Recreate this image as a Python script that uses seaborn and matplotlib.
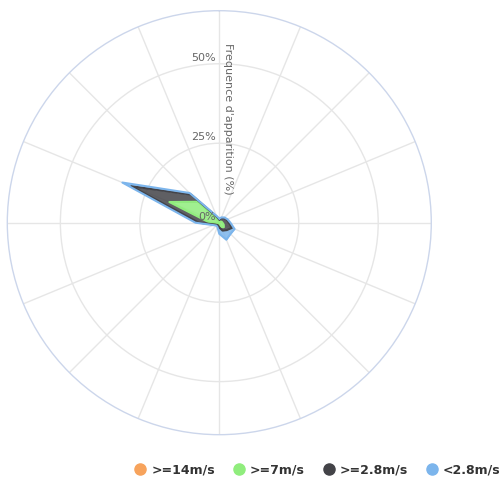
import numpy as np
import matplotlib
matplotlib.use("Agg")
import matplotlib.pyplot as plt
import seaborn as sns
from matplotlib.lines import Line2D

# ---- data ----
directions = ["N", "NNE", "NE", "ENE", "E", "ESE", "SE", "SSE",
              "S", "SSW", "SW", "WSW", "W", "WNW", "NW", "NNW"]
v_ge14 = [0.0, 0.0, 0.0, 0.0, 0.0, 0.0, 0.0, 0.0,
          0.0, 0.0, 0.0, 0.0, 0.0, 0.1, 0.0, 0.0]
v_ge7 = [0.3, 0.3, 0.5, 0.8, 1.0, 1.5, 2.0, 1.5,
         0.3, 0.2, 0.2, 0.5, 3.0, 16.9, 9.3, 0.5]
v_ge28 = [0.7, 1.2, 1.5, 1.7, 2.0, 2.8, 1.3, 1.2,
          1.2, 0.8, 0.8, 1.0, 3.5, 13.0, 3.2, 1.5]
v_lt28 = [0.3, 0.3, 0.3, 0.3, 0.5, 0.9, 1.7, 3.1,
          2.0, 0.5, 0.3, 0.5, 1.0, 3.0, 0.7, 0.3]
series_labels = [">=14m/s", ">=7m/s", ">=2.8m/s", "<2.8m/s"]
series_colors = ["#f7a35c", "#90ed7d", "#434348", "#7cb5ec"]
r_ticks = [0, 25, 50]
r_tick_labels = ["0%", "25%", "50%"]
r_max = 66.7
axis_title = "Frequence d'apparition (%)"

# ---- style ----
sns.set_theme(style="white")
plt.rcParams['font.family'] = ['DejaVu Sans']

fig = plt.figure(figsize=(5.03, 4.79), dpi=100)
ax = fig.add_axes([0.01451, 0.0925, 0.8429, 0.8852], projection='polar')
ax.set_theta_zero_location('N')
ax.set_theta_direction(-1)
ax.set_facecolor('white')

n = len(directions)
theta = np.deg2rad(np.arange(n) * 360.0 / n)
theta_c = np.append(theta, theta[0] + 2 * np.pi)

base = np.zeros(n + 1)
series_vals = [v_ge14, v_ge7, v_ge28, v_lt28]
for vals, col, lab in zip(series_vals, series_colors, series_labels):
    v = np.append(np.array(vals, dtype=float), vals[0])
    top = base + v
    ax.fill_between(theta_c, base, top, color=col, alpha=0.85, lw=0, zorder=2)
    sns.lineplot(x=theta_c, y=top, ax=ax, color=col, lw=1.5, zorder=3,
                 sort=False, estimator=None)
    base = top

ax.set_ylim(0, r_max)
ax.set_xticks(theta)
ax.set_xticklabels([])
ax.set_yticks([t for t in r_ticks if t > 0])
ax.set_yticklabels([])
ax.xaxis.grid(True, color='#e6e6e6', lw=1)
ax.yaxis.grid(True, color='#e6e6e6', lw=1)
ax.spines['polar'].set_color('#ccd6eb')
ax.spines['polar'].set_linewidth(1)
ax.set_axisbelow(True)

for t, lab in zip(r_ticks, r_tick_labels):
    ax.annotate(lab, xy=(0, t), xycoords='data', xytext=(-3, 1),
                textcoords='offset pixels', ha='right', va='bottom',
                fontsize=8, color='#666666', zorder=5)

fig.text(228 / 503, 360.5 / 479, axis_title, rotation=-90, ha='center',
         va='center', fontsize=8, color='#666666')

handles = [Line2D([0], [0], marker='o', linestyle='none', markersize=8,
                  markerfacecolor=c, markeredgecolor=c) for c in series_colors]
fig.legend(handles, series_labels, loc='center right',
           bbox_to_anchor=(0.998, 0.019), borderaxespad=0, borderpad=0.1,
           ncol=4, frameon=False, handlelength=0.8, handletextpad=0.5,
           columnspacing=1.5, prop={'weight': 'bold', 'size': 9},
           labelcolor='#333333')

fig.savefig("out.png", dpi=100)
